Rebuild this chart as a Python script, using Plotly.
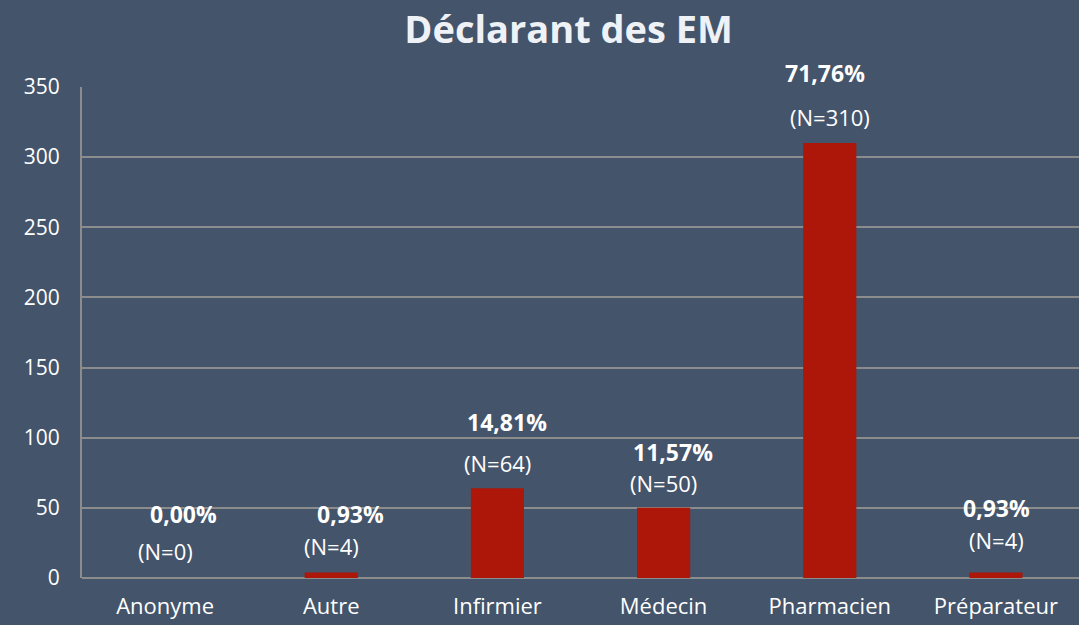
import plotly.graph_objects as go

categories = ["Anonyme", "Autre", "Infirmier", "Médecin", "Pharmacien", "Préparateur"]
counts = [0, 4, 64, 50, 310, 4]
pct_labels = ["0,00%", "0,93%", "14,81%", "11,57%", "71,76%", "0,93%"]
n_labels = ["(N=0)", "(N=4)", "(N=64)", "(N=50)", "(N=310)", "(N=4)"]
y_ticks = [0, 50, 100, 150, 200, 250, 300, 350]

# label offsets (pixels) mimicking the manual placement in the original
pct_dx = [18, 19, 10, 9, -5, 1]
pct_dy = [64, 58, 66, 56, 70, 64]
n_dx = [0, 0, 0, 0, 0, 1]
n_dy = [27, 26, 25, 25, 26, 32]

BG = "#44546A"
FONT = "'Open Sans', sans-serif"

fig = go.Figure()
fig.add_trace(go.Bar(
    x=categories, y=counts,
    marker=dict(color="#AC1709", line=dict(width=0)),
    width=0.32,
    hoverinfo="x+y",
))

ann = []
for c, v, p, n, pdx, pdy, ndx, ndy in zip(categories, counts, pct_labels, n_labels,
                                           pct_dx, pct_dy, n_dx, n_dy):
    ann.append(dict(x=c, y=v, xref="x", yref="y", text="<b>" + p + "</b>",
                    showarrow=False, xshift=pdx, yshift=pdy, yanchor="middle",
                    font=dict(family=FONT, size=23, color="white")))
    ann.append(dict(x=c, y=v, xref="x", yref="y", text=n,
                    showarrow=False, xshift=ndx, yshift=ndy, yanchor="middle",
                    font=dict(family=FONT, size=22, color="white")))

fig.update_layout(
    width=1079, height=625,
    paper_bgcolor=BG, plot_bgcolor=BG,
    margin=dict(l=82, r=0, t=87, b=47, autoexpand=False),
    title=dict(text="<b>Déclarant des EM</b>", x=0.527, xanchor="center",
               y=0.953, yanchor="middle",
               font=dict(family=FONT, size=38, color="#EEF2F7")),
    font=dict(family=FONT, color="white"),
    showlegend=False,
    annotations=ann,
)
fig.update_xaxes(showgrid=False, showline=False, zeroline=False, automargin=False,
                 tickfont=dict(family=FONT, size=22, color="white"),
                 ticks="", ticklabelstandoff=13)
fig.update_yaxes(range=[0, 350], tickvals=y_ticks, showgrid=True, automargin=False,
                 gridcolor="#8C8C8C", gridwidth=2, zeroline=True,
                 zerolinecolor="#8C8C8C", zerolinewidth=2,
                 showline=True, linecolor="#8C8C8C", linewidth=2,
                 tickfont=dict(family=FONT, size=21, color="white"),
                 ticks="", ticklabelstandoff=16)

fig.write_html("out.html", config={"displayModeBar": False})

# remove the default page margin so the figure fills the window exactly
with open("out.html", "r", encoding="utf-8") as f:
    html = f.read()
html = html.replace("<head>", "<head><style>html,body{margin:0;padding:0;background:%s;overflow:hidden;}</style>" % BG, 1)
with open("out.html", "w", encoding="utf-8") as f:
    f.write(html)
